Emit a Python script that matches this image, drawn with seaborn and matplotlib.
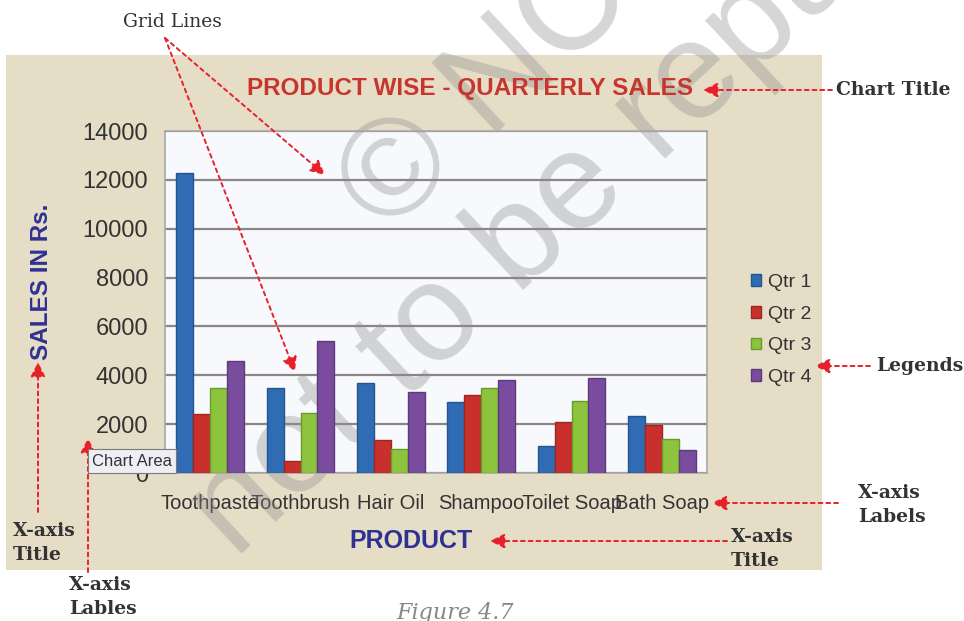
import pandas as pd
import seaborn as sns
import matplotlib.pyplot as plt
from matplotlib import font_manager
from matplotlib.patches import Rectangle, Patch

# chart data
products = ["Toothpaste", "Toothbrush", "Hair Oil", "Shampoo", "Toilet Soap", "Bath Soap"]
quarters = ["Qtr 1", "Qtr 2", "Qtr 3", "Qtr 4"]
qtr1 = [12300, 3500, 3700, 2900, 1100, 2350]
qtr2 = [2400, 500, 1350, 3200, 2100, 1950]
qtr3 = [3500, 2450, 1000, 3500, 2950, 1400]
qtr4 = [4600, 5400, 3300, 3800, 3900, 950]
y_ticks = [0, 2000, 4000, 6000, 8000, 10000, 12000, 14000]

colors = ["#2f6cb3", "#c9302c", "#8cc43d", "#7a4c9e"]
edges = ["#24558e", "#9e2522", "#6a9a2c", "#5e3a7c"]

rows = []
for q, vals in zip(quarters, [qtr1, qtr2, qtr3, qtr4]):
    for p, v in zip(products, vals):
        rows.append({"product": p, "quarter": q, "sales": v})
df = pd.DataFrame(rows)

sns.set_style("white")
plt.rcParams["font.family"] = ["Liberation Sans", "DejaVu Sans"]

# the x labels and legend use a narrow face in the original
installed = {f.name for f in font_manager.fontManager.ttflist}
if "Liberation Sans Narrow" in installed:
    narrow, xsize, lsize = ["Liberation Sans Narrow"], 17, 16
else:
    narrow, xsize, lsize = ["Liberation Sans"], 14.5, 14
serif = ["DejaVu Serif"]
navy = "#2e3192"

W, H = 964, 621
fig = plt.figure(figsize=(W / 100, H / 100), dpi=100)
fig.patch.set_facecolor("white")

# beige chart area
fig.add_artist(Rectangle((6 / W, 1 - 570 / H), 816 / W, 515 / H,
                         transform=fig.transFigure, facecolor="#e6ddc7",
                         edgecolor="none", zorder=-1))

ax = fig.add_axes([165 / W, 1 - 473 / H, 542 / W, 342 / H])
ax.set_facecolor("#f8f9fc")

sns.barplot(data=df, x="product", y="sales", hue="quarter", order=products,
            hue_order=quarters, palette=colors, width=0.75, legend=False,
            saturation=1, ax=ax, zorder=3)
for i, cont in enumerate(ax.containers):
    for bar in cont:
        bar.set_edgecolor(edges[i])
        bar.set_linewidth(1.0)

ax.set_ylim(0, 14000)
ax.set_yticks(y_ticks)
ax.set_yticklabels([str(t) for t in y_ticks], fontsize=17, color="#333333")
ax.tick_params(axis="y", length=0, pad=12)
ax.tick_params(axis="x", length=0, pad=15)
for lab in ax.get_xticklabels():
    lab.set_fontfamily(narrow)
    lab.set_fontsize(xsize)
    lab.set_color("#333333")
ax.yaxis.grid(True, color="#8a8686", linewidth=1.6)
ax.set_axisbelow(True)
for s in ax.spines.values():
    s.set_color("#a8a8a8")
    s.set_linewidth(1.2)

ax.set_xlabel("PRODUCT", fontsize=18, fontweight="bold", color=navy)
ax.xaxis.set_label_coords((411 - 165) / 542, -(541 - 473) / 342)
ax.set_ylabel("SALES IN Rs.", fontsize=17.5, fontweight="bold", color=navy)
ax.yaxis.set_label_coords(-(165 - 42) / 542, (473 - 282) / 342)
ax.xaxis.label.set_va("center")
ax.yaxis.label.set_va("center")

fig.text(470 / W, 1 - 88 / H, "PRODUCT WISE - QUARTERLY SALES", ha="center",
         va="center", fontsize=17.5, fontweight="bold", color="#c8352c")

handles = [Patch(facecolor=c, edgecolor=e) for c, e in zip(colors, edges)]
leg = fig.legend(handles, quarters, loc="center left",
                 bbox_to_anchor=(733 / W, 1 - 330 / H), frameon=False,
                 handlelength=0.55, handleheight=0.55, handletextpad=0.35,
                 labelspacing=0.75, prop={"family": narrow, "size": lsize})
for t in leg.get_texts():
    t.set_color("#333333")

# "Chart Area" tooltip
fig.text(92 / W, 1 - 461 / H, "Chart Area", ha="left", va="center", fontsize=12,
         color="#333333", zorder=10,
         bbox=dict(boxstyle="square,pad=0.25", facecolor="#eeeef4",
                   edgecolor="#7a7a7a", linewidth=0.8))

# callout labels and arrows
arrow = dict(arrowstyle="-|>", color="#e8202a", linestyle=(0, (2, 2)),
             linewidth=1.4, mutation_scale=22, shrinkA=0, shrinkB=0)


def callout(text, txy, head, tail, ha="left", weight="bold"):
    fig.text(txy[0] / W, 1 - txy[1] / H, text, ha=ha, va="center", fontsize=13.5,
             family=serif, fontweight=weight, color="#333333", linespacing=1.5)
    ax.annotate("", xy=(head[0], H - head[1]), xycoords="figure pixels",
                xytext=(tail[0], H - tail[1]), textcoords="figure pixels",
                arrowprops=arrow, annotation_clip=False)


callout("Grid Lines", (172, 22), (325, 175), (165, 38), ha="center", weight="normal")
ax.annotate("", xy=(295, H - 372), xycoords="figure pixels", xytext=(165, H - 38),
            textcoords="figure pixels", arrowprops=arrow, annotation_clip=False)
callout("Chart Title", (836, 90), (703, 90), (832, 90))
callout("Legends", (876, 366), (815, 366), (870, 366))
callout("X-axis\nLabels", (858, 505), (712, 503), (838, 503))
callout("X-axis\nTitle", (731, 549), (490, 541), (727, 541))
callout("X-axis\nTitle", (13, 543), (38, 362), (38, 512))
callout("X-axis\nLables", (69, 597), (88, 438), (88, 572))

fig.text(455 / W, 1 - 619 / H, "Figure 4.7", ha="center", va="baseline",
         fontsize=16, style="italic", family=serif, color="#888888")

# diagonal watermark, under the bars
wm = dict(ha="left", va="baseline", rotation=43, rotation_mode="anchor",
          fontsize=100, color="#8c8c8c", alpha=0.36, zorder=2, clip_on=False,
          transform=None)
ax.text(386, H - 236, "\u00a9 NCERT", **wm)
ax.text(235, H - 560, "not to be republished", **wm)

fig.savefig("out.png", dpi=100, facecolor="white")
